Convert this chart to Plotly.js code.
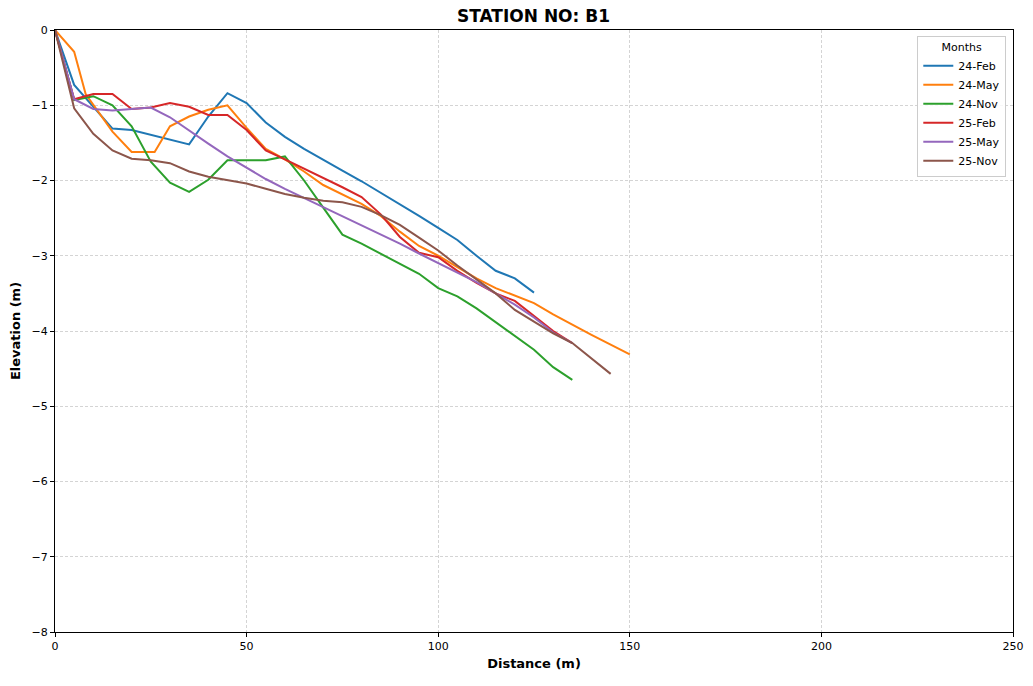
<!DOCTYPE html>
<html>
<head>
<meta charset="utf-8">
<script src="https://cdn.plot.ly/plotly-3.0.1.min.js"></script>
<style>html,body{margin:0;padding:0;background:#fff;}#chart{width:1033px;height:686px;}</style>
</head>
<body>
<div id="chart"></div>
<script>
const seriesNames = ["24-Feb", "24-May", "24-Nov", "25-Feb", "25-May", "25-Nov"];
const seriesColors = ["#1f77b4", "#ff7f0e", "#2ca02c", "#d62728", "#9467bd", "#8c564b"];

const feb24X = [0,5,15,20,35,40,45,50,55,60,65,70,75,80,85,90,95,100,105,110,115,120,125];
const feb24Y = [0,-0.73,-1.31,-1.33,-1.52,-1.15,-0.84,-0.97,-1.23,-1.42,-1.58,-1.73,-1.87,-2.01,-2.16,-2.31,-2.47,-2.63,-2.79,-3.0,-3.2,-3.3,-3.49];

const may24X = [0,5,8,15,20,26,30,35,40,45,50,55,60,65,70,75,80,85,90,95,100,105,110,115,120,125,130,135,140,145,150];
const may24Y = [0,-0.29,-0.85,-1.35,-1.62,-1.62,-1.28,-1.15,-1.06,-1.0,-1.3,-1.58,-1.72,-1.88,-2.06,-2.18,-2.31,-2.47,-2.68,-2.87,-3.0,-3.15,-3.3,-3.43,-3.53,-3.63,-3.78,-3.92,-4.05,-4.18,-4.31];

const nov24X = [0,5,10,15,20,25,30,35,40,45,50,55,60,65,70,75,80,85,90,95,100,105,110,115,120,125,130,135];
const nov24Y = [0,-0.93,-0.88,-1.0,-1.28,-1.75,-2.03,-2.15,-1.99,-1.73,-1.73,-1.73,-1.68,-2.0,-2.36,-2.72,-2.84,-2.97,-3.1,-3.24,-3.43,-3.54,-3.7,-3.88,-4.06,-4.25,-4.48,-4.65];

const feb25X = [0,5,10,15,20,25,30,35,40,45,50,55,60,65,70,75,80,85,90,95,100,105,110,115,120,125,130,135];
const feb25Y = [0,-0.92,-0.85,-0.85,-1.05,-1.03,-0.97,-1.02,-1.13,-1.13,-1.33,-1.6,-1.72,-1.84,-1.97,-2.09,-2.22,-2.45,-2.75,-2.96,-3.02,-3.2,-3.36,-3.5,-3.6,-3.8,-4.0,-4.16];

const may25X = [0,5,10,15,20,25,30,35,40,45,50,55,60,65,70,75,80,85,90,95,100,105,110,115,120,125,130,135];
const may25Y = [0,-0.92,-1.05,-1.07,-1.05,-1.03,-1.16,-1.34,-1.51,-1.68,-1.83,-1.98,-2.11,-2.23,-2.35,-2.47,-2.59,-2.71,-2.84,-2.97,-3.1,-3.22,-3.35,-3.5,-3.65,-3.82,-4.02,-4.16];

const nov25X = [0,5,10,15,20,25,30,35,40,45,50,55,60,65,70,75,80,85,90,95,100,105,110,115,120,125,130,135,140,145];
const nov25Y = [0,-1.04,-1.38,-1.6,-1.71,-1.73,-1.77,-1.88,-1.95,-1.99,-2.04,-2.11,-2.18,-2.23,-2.27,-2.29,-2.35,-2.46,-2.59,-2.76,-2.93,-3.13,-3.32,-3.5,-3.72,-3.88,-4.03,-4.16,-4.37,-4.57];

const xs = [feb24X, may24X, nov24X, feb25X, may25X, nov25X];
const ys = [feb24Y, may24Y, nov24Y, feb25Y, may25Y, nov25Y];

const traces = seriesNames.map((n, i) => ({
  x: xs[i], y: ys[i], name: n, type: "scatter", mode: "lines",
  line: {color: seriesColors[i], width: 2}
}));

const font = "DejaVu Sans, sans-serif";
const layout = {
  width: 1033, height: 686,
  margin: {l: 55, r: 20, t: 30, b: 54},
  paper_bgcolor: "#fff", plot_bgcolor: "#fff",
  font: {family: font, size: 11, color: "#000"},
  title: {text: "<b>STATION NO: B1</b>", font: {family: font, size: 17, color: "#000"}, x: 0.5165, xanchor: "center", y: 0.985, yanchor: "top"},
  xaxis: {
    range: [0, 250], dtick: 50, tick0: 0,
    title: {text: "<b>Distance (m)</b>", font: {family: font, size: 13}, standoff: 6},
    showgrid: true, gridcolor: "#d4d4d4", griddash: "3px,2px", gridwidth: 1,
    zeroline: false, showline: true, linecolor: "#000", linewidth: 1, mirror: true,
    ticks: "outside", ticklen: 4, tickcolor: "#000", tickfont: {family: font, size: 11}
  },
  yaxis: {
    range: [-8, 0], dtick: 1, tick0: 0,
    title: {text: "<b>Elevation (m)</b>", font: {family: font, size: 13}, standoff: 8},
    showgrid: true, gridcolor: "#d4d4d4", griddash: "3px,2px", gridwidth: 1,
    zeroline: false, showline: true, linecolor: "#000", linewidth: 1, mirror: true,
    ticks: "outside", ticklen: 4, tickcolor: "#000", tickfont: {family: font, size: 11}
  },
  legend: {
    x: 0.993, xanchor: "right", y: 0.99, yanchor: "top",
    bgcolor: "rgba(255,255,255,0.8)", bordercolor: "#cccccc", borderwidth: 1,
    font: {family: font, size: 11},
    title: {text: "Months", side: "top center", font: {family: font, size: 11}},
    tracegroupgap: 0, itemwidth: 30
  },
  showlegend: true
};

Plotly.newPlot("chart", traces, layout, {displayModeBar: false, staticPlot: true});
</script>
</body>
</html>
